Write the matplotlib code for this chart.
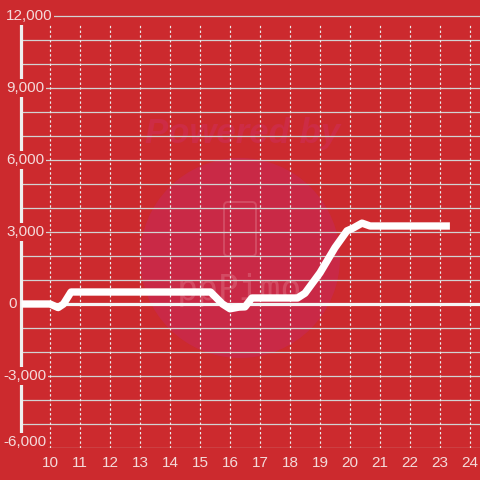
import matplotlib
matplotlib.use('Agg')
import matplotlib.pyplot as plt
import matplotlib.transforms as mtransforms
from matplotlib.patches import Circle, FancyBboxPatch

# ---- data ----
hours = [9.05, 10.0, 10.27, 10.45, 10.7, 15.35, 15.75, 16.0, 16.3, 16.5, 16.73,
         18.25, 18.5, 19.0, 19.5, 19.9, 20.1, 20.4, 20.67, 23.33]
values = [0, 0, -150, 0, 500, 500, 0, -200, -130, -120, 250,
          250, 450, 1300, 2350, 3050, 3160, 3370, 3250, 3250]
x_ticks = list(range(10, 25))
y_ticks = [12000, 9000, 6000, 3000, 0, -3000, -6000]
y_tick_labels = ['12,000', '9,000', '6,000', '3,000', '0', '-3,000', '-6,000']
y_grid = list(range(-6000, 12001, 1000))

BG = '#cc2a2e'
TXT = '#f4dada'
FONT = 'Liberation Sans'

fig = plt.figure(figsize=(4.8, 4.8), dpi=100, facecolor=BG)

# ---- watermark (figure pixel coords) ----
wm = fig.add_axes([0, 0, 1, 1], zorder=0)
wm.set_xlim(0, 480)
wm.set_ylim(480, 0)
wm.axis('off')
wm.add_patch(Circle((240, 258), 100, color='#c92946', lw=0))
wm.text(243, 133, 'Powered by', fontsize=25, fontweight='bold', style='italic',
        color='#cd2c45', ha='center', va='center', family=FONT)
wm.add_patch(FancyBboxPatch((224, 202), 32, 54,
                            boxstyle='round,pad=0,rounding_size=4',
                            fill=False, ec='#d34b63', lw=1.4))
wm.text(239, 290, 'ppPimo', fontsize=25, color='#d34b63', ha='center',
        va='center', family='DejaVu Sans Mono')

# ---- main axes ----
ax = fig.add_axes([21 / 480, 32 / 480, 459 / 480, 448 / 480], zorder=1)
ax.patch.set_alpha(0)
x0 = 10 - 29 / 30
x1 = 10 + 430 / 30
ax.set_xlim(x0, x1)
ax.set_ylim(-6000, -6000 + 448 * 1000 / 24)
for s in ax.spines.values():
    s.set_visible(False)

# horizontal grid
for v in y_grid:
    if v == 0:
        continue
    ax.axhline(v, color='#d2d2d2', lw=0.9, zorder=1)
# zero line
ax.axhline(0, color='#f5f5f5', lw=2.3, zorder=2)
# vertical dotted grid
ax.vlines(x_ticks, -6000, 11700, colors='#ececec', lw=0.85,
          linestyles=(0, (2.0, 2.0)), zorder=1)
# left spine
ax.plot([x0 - 0.01, x0 - 0.01], [-6000, 12000], color='#efefef', lw=2.3,
        clip_on=False, zorder=3, solid_capstyle='butt')

# data line
ax.plot(hours, values, color='white', lw=5.3, solid_joinstyle='round',
        solid_capstyle='butt', zorder=6)

# y labels
blend = mtransforms.blended_transform_factory(ax.transAxes, ax.transData)
for v, lab in zip(y_ticks, y_tick_labels):
    if lab.startswith('-'):
        px = 3
    elif lab == '0':
        px = 8
    else:
        px = 6
    tr = blend
    if v == -6000:
        tr = mtransforms.offset_copy(blend, fig=fig, x=0, y=6, units='dots')
    ax.text((px - 21) / 459, v, lab, transform=tr, ha='left', va='center',
            fontsize=11, color=TXT, family=FONT, clip_on=False, zorder=5,
            bbox=dict(boxstyle='square,pad=0.12', fc=BG, ec='none'))

# x ticks
ax.set_yticks([])
ax.set_xticks(x_ticks)
ax.set_xticklabels([str(t) for t in x_ticks], fontsize=11, color=TXT,
                   family=FONT)
ax.tick_params(axis='x', length=0, pad=6)

fig.savefig('out.png', dpi=100, facecolor=BG)
